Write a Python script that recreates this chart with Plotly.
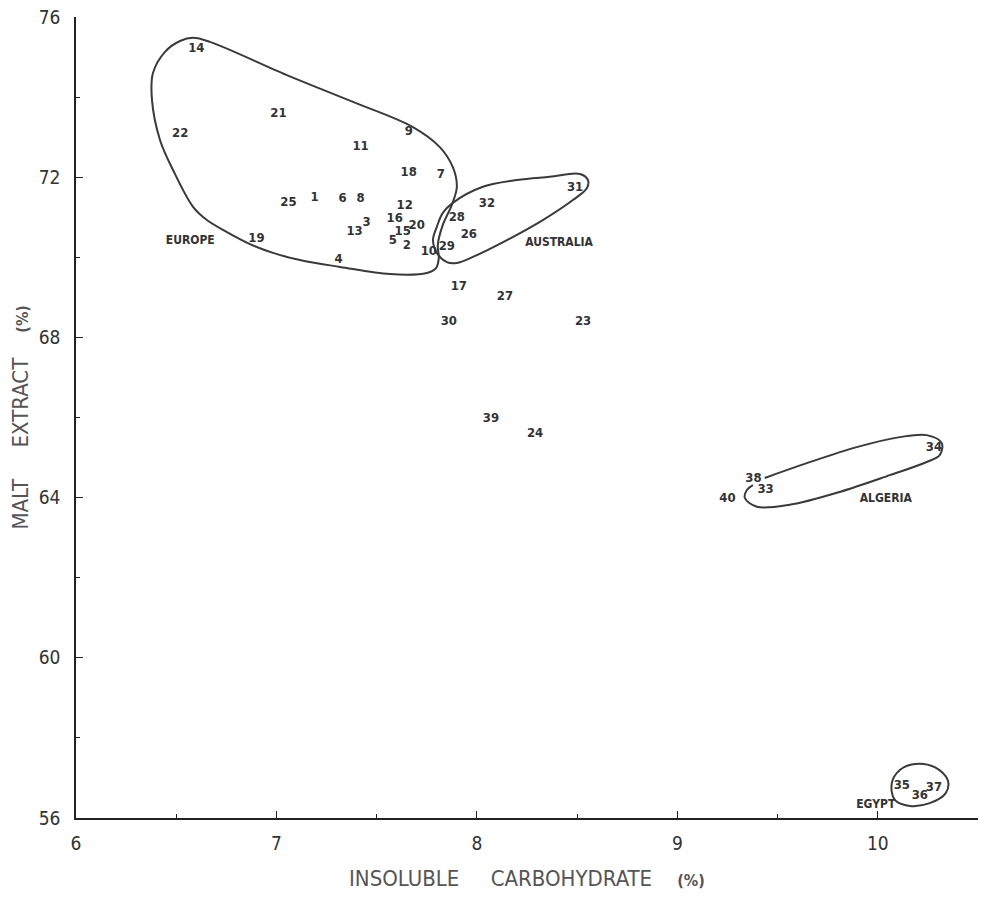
import plotly.graph_objects as go

# ---- data: sample number, insoluble carbohydrate (%), malt extract (%) ----
sample_ids = [14, 22, 21, 9, 11, 18, 7, 25, 1, 6, 8, 12, 16, 3, 13, 20, 15, 5, 2, 10,
              19, 4, 28, 26, 29, 32, 31, 17, 27, 30, 23, 39, 24, 38, 33, 34, 40, 35, 36, 37]
insoluble_carb = [6.60, 6.52, 7.01, 7.66, 7.42, 7.66, 7.82, 7.06, 7.19, 7.33, 7.42, 7.64, 7.59,
                  7.45, 7.39, 7.70, 7.63, 7.58, 7.65, 7.76, 6.90, 7.31, 7.90, 7.96, 7.85, 8.05,
                  8.49, 7.91, 8.14, 7.86, 8.53, 8.07, 8.29, 9.38, 9.44, 10.28, 9.25, 10.12,
                  10.21, 10.28]
malt_extract = [75.20, 73.08, 73.58, 73.13, 72.75, 72.10, 72.05, 71.36, 71.48, 71.46, 71.46,
                71.28, 70.96, 70.86, 70.63, 70.78, 70.63, 70.41, 70.28, 70.13, 70.46, 69.93,
                70.98, 70.56, 70.26, 71.33, 71.73, 69.26, 69.01, 68.38, 68.38, 65.96, 65.59,
                64.46, 64.19, 65.24, 63.96, 56.80, 56.55, 56.75]

# region names and label positions
region_names = ["EUROPE", "AUSTRALIA", "ALGERIA", "EGYPT"]
region_label_x = [6.57, 8.41, 10.04, 9.99]
region_label_y = [70.41, 70.36, 63.96, 56.32]

# hand-drawn enclosing outlines (data units)
europe_x = [6.584, 6.668, 7.052, 7.382, 7.681, 7.815, 7.880, 7.900, 7.875, 7.830, 7.805, 7.810,
            7.796, 7.751, 7.566, 7.317, 7.117, 6.983, 6.868, 6.753, 6.653, 6.584, 6.484, 6.419,
            6.379, 6.384, 6.444, 6.519, 6.584]
europe_y = [75.48, 75.38, 74.55, 73.88, 73.25, 72.75, 72.25, 71.76, 71.31, 70.81, 70.31, 69.98,
            69.73, 69.61, 69.58, 69.76, 69.93, 70.11, 70.33, 70.63, 70.93, 71.26, 72.18, 72.93,
            73.93, 74.60, 75.13, 75.40, 75.48]
australia_x = [7.880, 8.030, 8.200, 8.364, 8.514, 8.554, 8.549, 8.479, 8.329, 8.150, 7.980,
               7.900, 7.850, 7.800, 7.781, 7.800, 7.830, 7.880]
australia_y = [71.36, 71.76, 71.93, 72.01, 72.08, 71.93, 71.73, 71.43, 70.93, 70.43, 70.01,
               69.86, 69.88, 70.11, 70.43, 70.76, 71.11, 71.36]
algeria_x = [9.436, 9.646, 9.895, 10.110, 10.244, 10.319, 10.309, 10.244, 10.060, 9.810, 9.561,
             9.397, 9.337, 9.347, 9.377]
algeria_y = [64.49, 64.86, 65.26, 65.51, 65.56, 65.36, 65.06, 64.89, 64.56, 64.14, 63.82,
             63.77, 63.99, 64.19, 64.31]
egypt_x = [10.070, 10.110, 10.185, 10.284, 10.349, 10.339, 10.259, 10.160, 10.085, 10.070]
egypt_y = [56.87, 57.20, 57.35, 57.27, 56.95, 56.62, 56.37, 56.30, 56.45, 56.87]

x_ticks = [6, 7, 8, 9, 10]
y_ticks = [56, 60, 64, 68, 72, 76]

INK = "#333333"
LINE = "#3a3a3a"
NARROW = "DejaVu Sans Condensed, sans-serif"

fig = go.Figure()

for ox, oy in [(europe_x, europe_y), (australia_x, australia_y),
               (algeria_x, algeria_y), (egypt_x, egypt_y)]:
    fig.add_trace(go.Scatter(x=ox, y=oy, mode="lines",
                             line=dict(color=LINE, width=2, shape="spline", smoothing=1.0),
                             hoverinfo="skip", showlegend=False))

fig.add_trace(go.Scatter(
    x=insoluble_carb, y=malt_extract, mode="text",
    text=[str(s) for s in sample_ids],
    textposition="middle center",
    textfont=dict(family=NARROW, size=13, color=INK, weight="bold"),
    showlegend=False))

fig.add_trace(go.Scatter(
    x=region_label_x, y=region_label_y, mode="text",
    text=region_names, textposition="middle center",
    textfont=dict(family=NARROW, size=12, color=INK, weight="bold"),
    showlegend=False))

fig.update_xaxes(range=[6, 10.5], tickvals=x_ticks, ticktext=[str(v) for v in x_ticks],
                 ticks="inside", ticklen=7, tickwidth=1.2, tickcolor="#222",
                 minor=dict(dtick=0.5, tick0=6, ticks="inside", ticklen=4, tickcolor="#222"),
                 showline=True, linecolor="#222", linewidth=1.5, showgrid=False,
                 zeroline=False, ticklabelstandoff=7,
                 tickfont=dict(family=NARROW, size=19, color=INK))
fig.update_yaxes(range=[56, 76], tickvals=y_ticks, ticktext=[str(v) for v in y_ticks],
                 ticks="inside", ticklen=7, tickwidth=1.2, tickcolor="#222",
                 minor=dict(dtick=2, tick0=56, ticks="inside", ticklen=4, tickcolor="#222"),
                 showline=True, linecolor="#222", linewidth=1.5, showgrid=False,
                 zeroline=False, ticklabelstandoff=10,
                 tickfont=dict(family=NARROW, size=19, color=INK))

nb = "\u00a0"
fig.add_annotation(xref="paper", yref="paper", x=0.5, y=-0.075, xanchor="center",
                   yanchor="middle", showarrow=False,
                   text=f"INSOLUBLE{nb*5}CARBOHYDRATE{nb*4}<span style='font-size:16px'><b>(%)</b></span>",
                   font=dict(family=NARROW, size=22, color="#555"))
fig.add_annotation(xref="paper", yref="paper", x=-0.062, y=0.5, xanchor="center",
                   yanchor="middle", showarrow=False, textangle=-90,
                   text=f"MALT{nb*5}EXTRACT{nb*4}<span style='font-size:16px'><b>(%)</b></span>",
                   font=dict(family=NARROW, size=22, color="#555"))

fig.update_layout(width=981, height=899, plot_bgcolor="white", paper_bgcolor="white",
                  margin=dict(l=76, r=3, t=17, b=81), showlegend=False)

fig.write_html("out.html")
